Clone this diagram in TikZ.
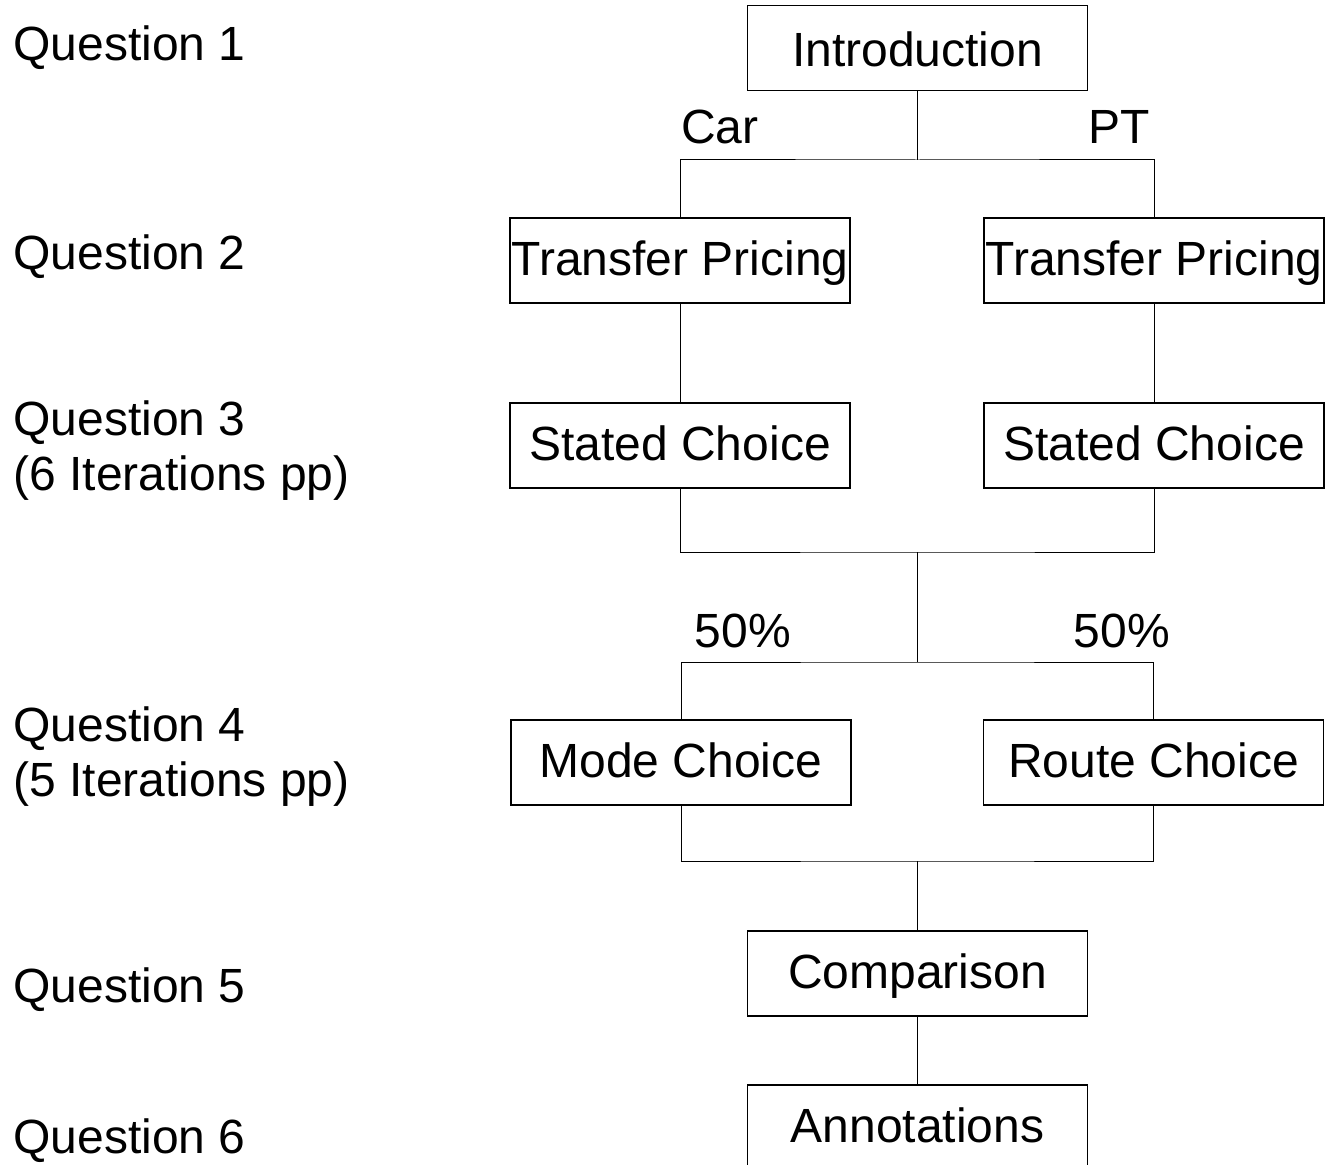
\documentclass[tikz,border=0pt]{standalone}
\usepackage{fontspec}
\setmainfont{Liberation Sans}
\begin{document}
\begin{tikzpicture}[x=0.5pt,y=-0.5pt,line width=.5pt,
  every node/.style={font=\fontsize{24pt}{27.5pt}\selectfont},
  stage/.style={draw,line width=.7pt,minimum width=170pt,minimum height=42.5pt,
    inner sep=0pt,text height=18.4pt,text depth=3.1pt},
  qlabel/.style={anchor=base west,inner sep=0pt,align=left}]
  \useasboundingbox (0,0) rectangle (1326,1165);
  % stages
  \node[stage,text height=21.6pt] (intro) at (917.5,48) {Introduction};
  \node[stage] (tpcar) at (680,260.5) {Transfer Pricing};
  \node[stage] (tppt) at (1154,260.5) {Transfer Pricing};
  \node[stage] (sccar) at (680,445.5) {Stated Choice};
  \node[stage] (scpt) at (1154,445.5) {Stated Choice};
  \node[stage] (mode) at (681,762.5) {Mode Choice};
  \node[stage] (route) at (1153.5,762.5) {Route Choice};
  \node[stage] (comp) at (917.5,973.5) {Comparison};
  \node[stage] (annot) at (917.5,1127.5) {Annotations};
  % branch labels
  \node[anchor=base] (car) at (720,144) {Car};
  \node[anchor=base] (pt) at (1119,144) {PT};
  \node[anchor=base] (half1) at (743,647) {50\%};
  \node[anchor=base] (half2) at (1122,647) {50\%};
  % questions (base = last line)
  \node[qlabel] (q1) at (13,61) {Question 1};
  \node[qlabel] (q2) at (13,270) {Question 2};
  \node[qlabel] (q3) at (13,490) {Question 3\\(6 Iterations pp)};
  \node[qlabel] (q4) at (13,796) {Question 4\\(5 Iterations pp)};
  \node[qlabel] (q5) at (13,1002) {Question 5};
  \node[qlabel] (q6) at (13,1153) {Question 6};
  % connectors
  \coordinate (s1) at (917.5,160);
  \coordinate (j1) at (917.5,552);
  \coordinate (s2) at (917.5,662);
  \coordinate (j2) at (917.5,861);
  \draw (intro) -- (s1);
  \draw (tpcar) |- (s1) -| (tppt);
  \draw (tpcar) -- (sccar);
  \draw (tppt) -- (scpt);
  \draw (sccar) |- (j1) -| (scpt);
  \draw (j1) -- (s2);
  \draw (mode) |- (s2) -| (route);
  \draw (mode) |- (j2) -| (route);
  \draw (j2) -- (comp);
  \draw (comp) -- (annot);
\end{tikzpicture}
\end{document}
